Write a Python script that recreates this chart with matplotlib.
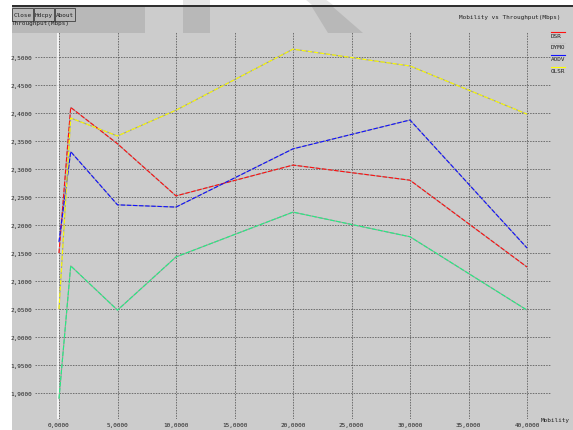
import matplotlib
matplotlib.use("Agg")
import matplotlib.pyplot as plt
from matplotlib.patches import Rectangle, Polygon
from matplotlib.lines import Line2D

# data
mobility = [0, 1, 5, 10, 20, 30, 40]
dsr = [2.150, 2.410, 2.345, 2.252, 2.307, 2.280, 2.125]
dymo = [1.890, 2.127, 2.048, 2.143, 2.223, 2.179, 2.048]
aodv = [2.170, 2.331, 2.236, 2.232, 2.336, 2.3875, 2.159]
olsr = [2.050, 2.391, 2.359, 2.405, 2.514, 2.484, 2.398]

names = ["DSR", "DYMO", "AODV", "OLSR"]
colors = ["#ff1010", "#20f080", "#1010ff", "#ffff00"]
legend_colors = ["#ff1010", "#c4c4c4", "#1010ff", "#ffff00"]

x_ticks = [0, 5, 10, 15, 20, 25, 30, 35, 40]
y_ticks = [1.90, 1.95, 2.00, 2.05, 2.10, 2.15, 2.20, 2.25, 2.30, 2.35, 2.40, 2.45, 2.50]

W, H = 573, 431
FONT = "DejaVu Sans Mono"
FS = 4.3


def px(x, y):
    return (x / W, 1 - y / H)


fig = plt.figure(figsize=(W / 100, H / 100), dpi=100)
fig.patch.set_facecolor("white")

# window background
fig.add_artist(Rectangle(px(12, 431), (W - 12) / W, 423 / H, transform=fig.transFigure,
                         facecolor="#cccccc", edgecolor="none", zorder=0))
fig.add_artist(Rectangle(px(12, 8), (W - 12) / W, 2 / H, transform=fig.transFigure,
                         facecolor="#303030", edgecolor="none", zorder=0))

# watermark shapes
fig.add_artist(Rectangle(px(12, 34), 133 / W, 26 / H, transform=fig.transFigure,
                         facecolor="#b8b8b8", edgecolor="none", zorder=0.5))
fig.add_artist(Rectangle(px(183, 34), 27 / W, 26 / H, transform=fig.transFigure,
                         facecolor="#b8b8b8", edgecolor="none", zorder=0.5))
fig.add_artist(Rectangle(px(183, 6), 27 / W, 6 / H, transform=fig.transFigure,
                         facecolor="#e6e6e6", edgecolor="none", zorder=0.5))
fig.add_artist(Polygon([px(312, 8), px(333, 8), px(363, 34), px(328, 34)], closed=True,
                       transform=fig.transFigure, facecolor="#b8b8b8", edgecolor="none", zorder=0.5))
fig.add_artist(Polygon([px(305, 0), px(325, 0), px(333, 6), px(312, 6)], closed=True,
                       transform=fig.transFigure, facecolor="#e6e6e6", edgecolor="none", zorder=0.5))

# buttons
for label, x0, x1 in [("Close", 12, 33), ("Hdcpy", 34, 54), ("About", 55, 75)]:
    fig.add_artist(Rectangle(px(x0, 22), (x1 - x0) / W, 13 / H, transform=fig.transFigure,
                             facecolor="none", edgecolor="#404040", linewidth=0.6, zorder=2))
    fig.text(*px((x0 + x1) / 2, 15.5), label, ha="center", va="center",
             fontsize=FS, family=FONT, color="#202020")

fig.text(*px(12, 23.5), "Throughput(Mbps)", ha="left", va="center",
         fontsize=FS, family=FONT, color="#202020")
fig.text(*px(459, 17), "Mobility vs Throughput(Mbps)", ha="left", va="center",
         fontsize=FS, family=FONT, color="#202020")
fig.text(*px(541, 421), "Mobility", ha="left", va="center",
         fontsize=FS, family=FONT, color="#202020")

# plot area
left, right, top, bottom = 35, 551, 33, 420
ax = fig.add_axes([left / W, 1 - bottom / H, (right - left) / W, (bottom - top) / H])
ax.set_facecolor("none")
for s in ax.spines.values():
    s.set_visible(False)

x_per_px = 40 / (527 - 59)
y_per_px = 0.6 / (394 - 58)
ax.set_xlim(-(59 - left) * x_per_px, 40 + (right - 527) * x_per_px)
ax.set_ylim(1.9 - (bottom - 394) * y_per_px, 2.5 + (58 - top) * y_per_px)

ax.set_xticks(x_ticks)
ax.set_yticks(y_ticks)
ax.set_xticklabels([("%.4f" % v).replace(".", ",") for v in x_ticks], family=FONT, fontsize=FS)
ax.set_yticklabels([("%.4f" % v).replace(".", ",") for v in y_ticks], family=FONT, fontsize=FS)
ax.tick_params(length=0, pad=2, colors="#202020")
ax.grid(True, color="#555555", linestyle=(0, (2, 1.5)), linewidth=0.55, zorder=1)
ax.axvline(-0.08, color="white", linewidth=1.1, zorder=1.9)

for vals, c in zip([dsr, dymo, aodv, olsr], colors):
    ax.plot(mobility, vals, color="#9a9a9a", linewidth=0.8, zorder=2)
    ax.plot(mobility, vals, color=c, linewidth=0.8, linestyle=(0, (4, 1.5)), zorder=3)

# xgraph-style legend on the right
for i, (name, c) in enumerate(zip(names, legend_colors)):
    ly = 36 + i * 11.7
    fig.add_artist(Line2D([551 / W, 565 / W], [1 - (ly - 3.5) / H] * 2,
                          transform=fig.transFigure, color=c, linewidth=0.8))
    fig.text(*px(551, ly), name, ha="left", va="center", fontsize=FS, family=FONT, color="#202020")

fig.savefig("out.png", dpi=100)
